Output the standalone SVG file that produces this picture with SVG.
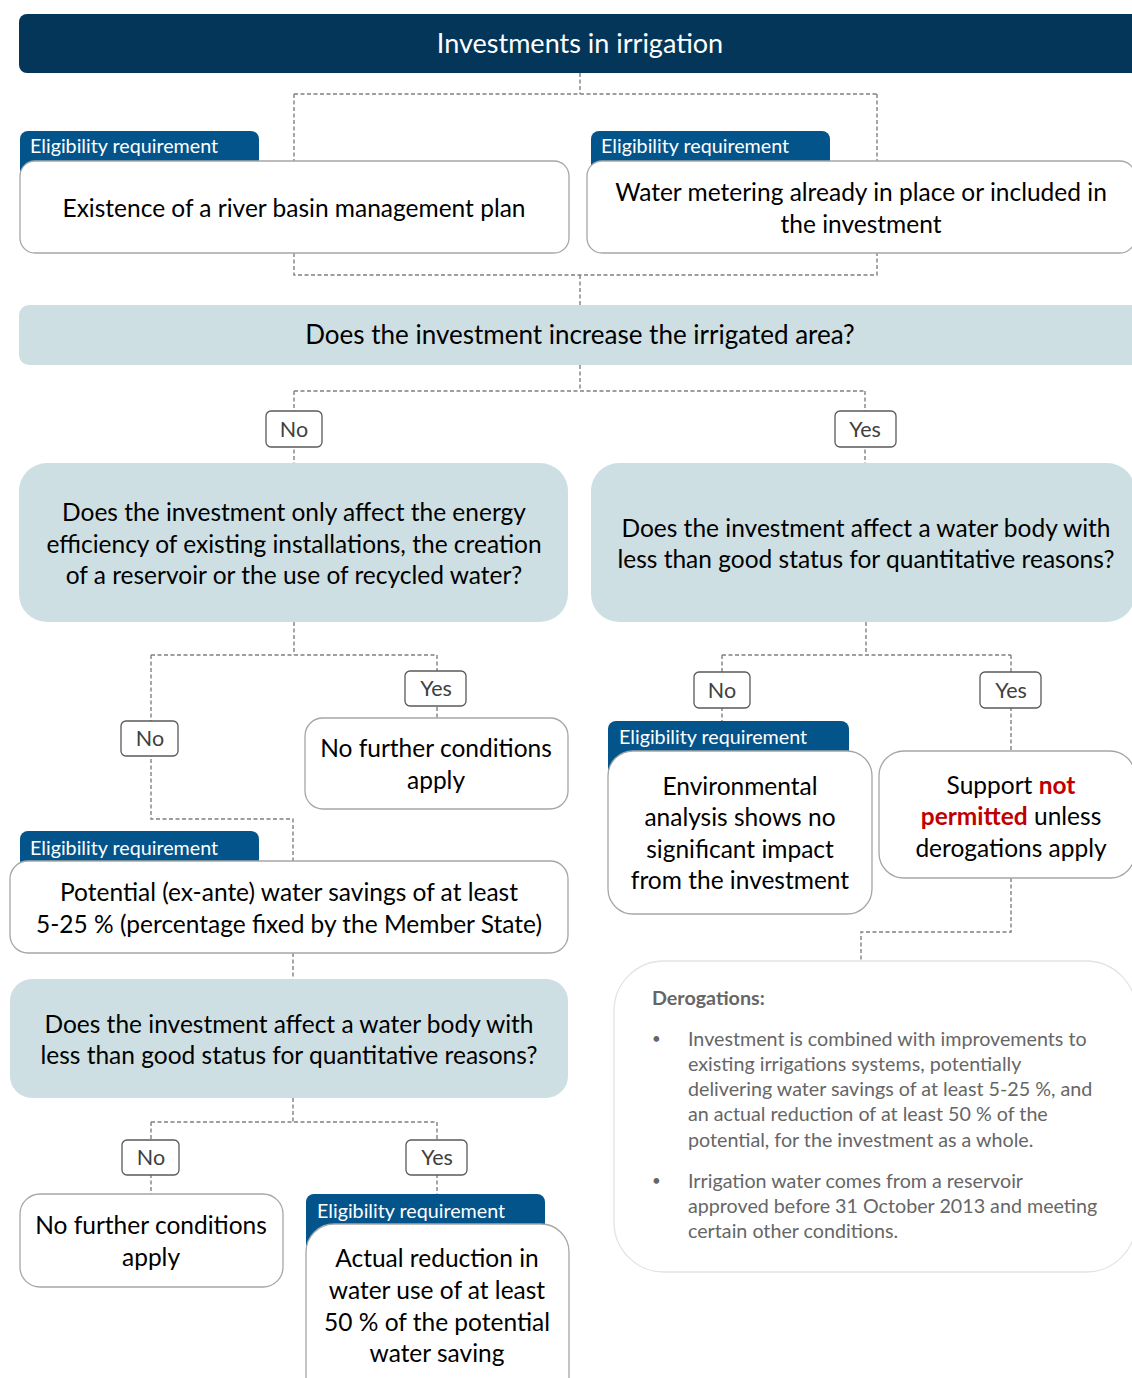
<svg xmlns="http://www.w3.org/2000/svg" width="1132" height="1378" viewBox="0 0 1132 1378">
<style>
text{font-family:Lato,"Liberation Sans",sans-serif;}
.conn{fill:none;stroke:#808080;stroke-width:1.4;stroke-dasharray:4 2.5;}
.hdr{fill:#033659;}
.hdrt{fill:#fff;font-size:27px;text-anchor:middle;}
.tab{fill:#03548a;}
.tabt{fill:#fff;font-size:19.7px;}
.box{fill:#fff;stroke:#a6a6a6;stroke-width:1.3;}
.q{fill:#cddfe3;}
.t{fill:#000;font-size:24.5px;text-anchor:middle;}
.t.big{font-size:26px;}
.lbl{fill:#fff;stroke:#595959;stroke-width:1.3;}
.lblt{fill:#404040;font-size:21.5px;text-anchor:middle;}
.red{fill:#c00000;font-weight:bold;}
.der{fill:#fff;stroke:#e3e3e3;stroke-width:1.3;}
.dt{fill:#666;font-size:19.7px;}
.bul{fill:#666;font-size:15px;}
</style>
<rect width="1132" height="1378" fill="#fff"/>
<g id="connectors">
<path class="conn" d="M580,73V94M294,94H877M294,94V161M877,94V161"/>
<path class="conn" d="M294,253V275H877V253M580,275V305"/>
<path class="conn" d="M580,365V391M294,391H865M294,391V463M865,391V463"/>
<path class="conn" d="M294,622V655M151,655H437M151,655V819H293V861M437,655V718"/>
<path class="conn" d="M293,953V979"/>
<path class="conn" d="M293,1098V1122M151,1122H437M151,1122V1194M437,1122V1194"/>
<path class="conn" d="M866,622V655M722,655H1011M722,655V721M1011,655V751"/>
<path class="conn" d="M1011,878V932H861V961"/>
</g>
<g id="header">
<rect class="hdr" x="19" y="14" width="1130" height="59" rx="8"/>
<text class="hdrt" x="580" y="53">Investments in irrigation</text>
</g>
<g id="req-rbmp">
<path class="tab" d="M20,190V139a8,8 0 0 1 8,-8H251a8,8 0 0 1 8,8V190Z"/>
<text class="tabt" x="30" y="153">Eligibility requirement</text>
<rect class="box" x="20" y="161" width="549" height="92" rx="15"/>
<text class="t" x="294" y="217">Existence of a river basin management plan</text>
</g>
<g id="req-metering">
<path class="tab" d="M591,190V139a8,8 0 0 1 8,-8H822a8,8 0 0 1 8,8V190Z"/>
<text class="tabt" x="601" y="153">Eligibility requirement</text>
<rect class="box" x="587" y="161" width="548" height="92" rx="15"/>
<text class="t" x="861" y="201">Water metering already in place or included in</text>
<text class="t" x="861" y="233">the investment</text>
</g>
<g id="q-area">
<rect class="q" x="19" y="305" width="1130" height="60" rx="10"/>
<text class="t big" x="580" y="344">Does the investment increase the irrigated area?</text>
</g>
<g id="lbl-no-1"><rect class="lbl" x="266" y="411" width="56" height="36" rx="5"/><text class="lblt" x="294" y="437">No</text></g>
<g id="lbl-yes-1"><rect class="lbl" x="835" y="411" width="61" height="36" rx="5"/><text class="lblt" x="865" y="437">Yes</text></g>
<g id="q-energy">
<rect class="q" x="19" y="463" width="549" height="159" rx="28"/>
<text class="t" x="294" y="521">Does the investment only affect the energy</text>
<text class="t" x="294" y="553">efficiency of existing installations, the creation</text>
<text class="t" x="294" y="584">of a reservoir or the use of recycled water?</text>
</g>
<g id="q-waterbody-1">
<rect class="q" x="591" y="463" width="544" height="159" rx="28"/>
<text class="t" x="866" y="537">Does the investment affect a water body with</text>
<text class="t" x="866" y="568">less than good status for quantitative reasons?</text>
</g>
<g id="lbl-yes-2"><rect class="lbl" x="405" y="671" width="61" height="35" rx="5"/><text class="lblt" x="436" y="696">Yes</text></g>
<g id="lbl-no-2"><rect class="lbl" x="121" y="721" width="57" height="35" rx="5"/><text class="lblt" x="150" y="746">No</text></g>
<g id="nfc-1">
<rect class="box" x="305" y="718" width="263" height="91" rx="18"/>
<text class="t" x="436" y="757">No further conditions</text>
<text class="t" x="436" y="789">apply</text>
</g>
<g id="req-potential">
<path class="tab" d="M20,890V839a8,8 0 0 1 8,-8H251a8,8 0 0 1 8,8V890Z"/>
<text class="tabt" x="30" y="855">Eligibility requirement</text>
<rect class="box" x="10" y="861" width="558" height="92" rx="18"/>
<text class="t" x="289" y="901">Potential (ex-ante) water savings of at least</text>
<text class="t" x="289" y="933">5-25 % (percentage fixed by the Member State)</text>
</g>
<g id="q-waterbody-2">
<rect class="q" x="10" y="979" width="558" height="119" rx="22"/>
<text class="t" x="289" y="1033">Does the investment affect a water body with</text>
<text class="t" x="289" y="1064">less than good status for quantitative reasons?</text>
</g>
<g id="lbl-no-3"><rect class="lbl" x="122" y="1140" width="57" height="35" rx="5"/><text class="lblt" x="151" y="1165">No</text></g>
<g id="lbl-yes-3"><rect class="lbl" x="406" y="1140" width="61" height="35" rx="5"/><text class="lblt" x="437" y="1165">Yes</text></g>
<g id="nfc-2">
<rect class="box" x="20" y="1194" width="263" height="93" rx="20"/>
<text class="t" x="151" y="1234">No further conditions</text>
<text class="t" x="151" y="1266">apply</text>
</g>
<g id="req-actual">
<path class="tab" d="M306,1264V1202a8,8 0 0 1 8,-8H537a8,8 0 0 1 8,8V1264Z"/>
<text class="tabt" x="317" y="1218">Eligibility requirement</text>
<rect class="box" x="306" y="1224" width="263" height="190" rx="28"/>
<text class="t" x="437" y="1267">Actual reduction in</text>
<text class="t" x="437" y="1299">water use of at least</text>
<text class="t" x="437" y="1331">50 % of the potential</text>
<text class="t" x="437" y="1362">water saving</text>
</g>
<g id="lbl-no-4"><rect class="lbl" x="694" y="672" width="56" height="36" rx="5"/><text class="lblt" x="722" y="698">No</text></g>
<g id="lbl-yes-4"><rect class="lbl" x="980" y="672" width="61" height="36" rx="5"/><text class="lblt" x="1011" y="698">Yes</text></g>
<g id="req-environmental">
<path class="tab" d="M608,790V729a8,8 0 0 1 8,-8H841a8,8 0 0 1 8,8V790Z"/>
<text class="tabt" x="619" y="744">Eligibility requirement</text>
<rect class="box" x="608" y="751" width="264" height="163" rx="25"/>
<text class="t" x="740" y="795">Environmental</text>
<text class="t" x="740" y="826">analysis shows no</text>
<text class="t" x="740" y="858">significant impact</text>
<text class="t" x="740" y="889">from the investment</text>
</g>
<g id="not-permitted">
<rect class="box" x="879" y="751" width="256" height="127" rx="25"/>
<text class="t" x="1011" y="794">Support <tspan class="red">not</tspan></text>
<text class="t" x="1011" y="825"><tspan class="red">permitted</tspan> unless</text>
<text class="t" x="1011" y="857">derogations apply</text>
</g>
<g id="derogations">
<rect class="der" x="614" y="961" width="522" height="311" rx="50"/>
<text class="dt" x="652" y="1005" font-weight="bold">Derogations:</text>
<text class="bul" x="652" y="1044">•</text>
<text class="dt" x="688" y="1046">Investment is combined with improvements to</text>
<text class="dt" x="688" y="1071">existing irrigations systems, potentially</text>
<text class="dt" x="688" y="1096">delivering water savings of at least 5-25 %, and</text>
<text class="dt" x="688" y="1121">an actual reduction of at least 50 % of the</text>
<text class="dt" x="688" y="1147">potential, for the investment as a whole.</text>
<text class="bul" x="652" y="1186">•</text>
<text class="dt" x="688" y="1188">Irrigation water comes from a reservoir</text>
<text class="dt" x="688" y="1213">approved before 31 October 2013 and meeting</text>
<text class="dt" x="688" y="1238">certain other conditions.</text>
</g>
</svg>
